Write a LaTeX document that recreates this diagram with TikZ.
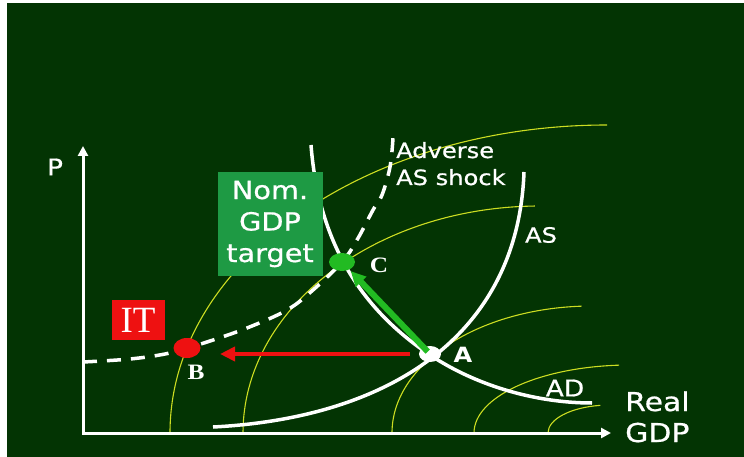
\documentclass[tikz,border=0pt]{standalone}
\usepackage{fontspec}
\setmainfont[FakeStretch=1.15,FakeBold=0.7]{DejaVu Sans}
\newfontfamily\boldsans[FakeStretch=1.15]{DejaVu Sans}
\newfontfamily\ptfont[FakeStretch=1.15]{Liberation Serif}
\newfontfamily\itfont{Liberation Serif}
\usepackage{tikz}
\usetikzlibrary{arrows.meta,shapes.geometric}
\definecolor{boardgreen}{HTML}{033403}
\definecolor{isoyellow}{HTML}{CCDD22}
\definecolor{targetgreen}{HTML}{1E9A44}
\definecolor{movegreen}{HTML}{22BB22}
\definecolor{itred}{HTML}{EE1111}
\tikzset{
  axisline/.style={{Triangle[length=10pt,width=10pt]}-{Triangle[length=10pt,width=10pt]},line width=3pt,white},
  curve/.style={line width=3.5pt,white},
  shifted/.style={curve,dash pattern=on 14pt off 10pt},
  isoline/.style={isoyellow,line width=1.1pt},
  dot/.style={ellipse,inner sep=0pt},
  ptlabel/.style={font=\ptfont\bfseries\fontsize{22}{22}\selectfont,text=white,inner sep=0pt},
  txt/.style={text=white,font=\fontsize{21}{21}\selectfont,inner sep=0pt},
  policybox/.style={inner sep=0pt,align=center,text=white},
  move/.style={line width=5pt,-{Triangle[length=15pt,width=14pt]}},
}

\begin{document}
\begin{tikzpicture}[x=1pt,y=-1pt]
  \useasboundingbox (0,0) rectangle (744,457);
  \fill[white] (0,0) rectangle (744,457);
  \fill[boardgreen] (7,3) rectangle (744,457);
  % nominal GDP curves
  \foreach \cx/\rx/\ry/\ea in {607/437/308/270,540/297/227/269,592/200/127/267,630/156/68/266,610/62/28/261}
    \draw[isoline] (\cx-\rx,433) arc[start angle=180,end angle=\ea,x radius=\rx,y radius=\ry];
  % axes
  \coordinate (O) at (83,433);
  \coordinate (ytop) at (83,146);
  \coordinate (xend) at (611,433);
  \draw[axisline] (ytop) -- (O) -- (xend);
  \node[txt,font=\fontsize{23}{23}\selectfont] (P) at (55,167) {P};
  \node[txt,font=\fontsize{26}{26}\selectfont,anchor=base west] (real) at (625,411) {Real};
  \node[txt,font=\fontsize{26}{26}\selectfont,anchor=base west] (gdp) at (625,442) {GDP};
  % AS, AD and shifted AS
  \draw[curve] (213,427) .. controls (390,418) and (518,335) .. (524,172);
  \draw[curve] (311,145) .. controls (318,235) and (355,305) .. (430,355)
                          .. controls (480,388) and (540,403) .. (592,403);
  \draw[shifted] plot[smooth,tension=0.6] coordinates {(83,362) (130,359) (165,354) (187,348) (207,342) (247,328) (287,310) (313,290) (342,262) (357,240) (373,210) (382,195) (390,167) (393,138)};
  \node[txt] (AS) at (541,235) {AS};
  \node[txt,font=\fontsize{23}{23}\selectfont] (AD) at (565,388) {AD};
  \node[txt,anchor=base west] (adv) at (396,158) {Adverse};
  \node[txt,anchor=base west] (shock) at (396,185) {AS shock};
  % policy boxes
  \node[policybox,fill=targetgreen,minimum width=105pt,minimum height=104pt,font=\fontsize{25}{31.5}\selectfont] (target) at (270,224) {Nom.\\GDP\\target};
  \node[policybox,fill=itred,minimum width=53pt,minimum height=40pt,font=\itfont\fontsize{37}{37}\selectfont] (it) at (138,320) {IT};
  % equilibria
  \node[dot,fill=white,minimum width=22pt,minimum height=16pt] (A) at (430,354) {};
  \node[dot,fill=itred,minimum width=27pt,minimum height=20pt] (B) at (187,348) {};
  \node[dot,fill=movegreen,minimum width=26pt,minimum height=18pt] (C) at (342,262) {};
  \node[txt,font=\boldsans\bfseries\fontsize{21}{21}\selectfont] (Alab) at (463,355) {A};
  \node[ptlabel] (Blab) at (196,372) {B};
  \node[ptlabel] (Clab) at (379,265) {C};
  \draw[move,itred,line width=4pt,shorten <=9pt,shorten >=33pt] (A) -- (A -| B);
  \draw[move,movegreen,line width=6pt,shorten <=-6pt,shorten >=2pt] (A) -- (C);
\end{tikzpicture}
\end{document}
